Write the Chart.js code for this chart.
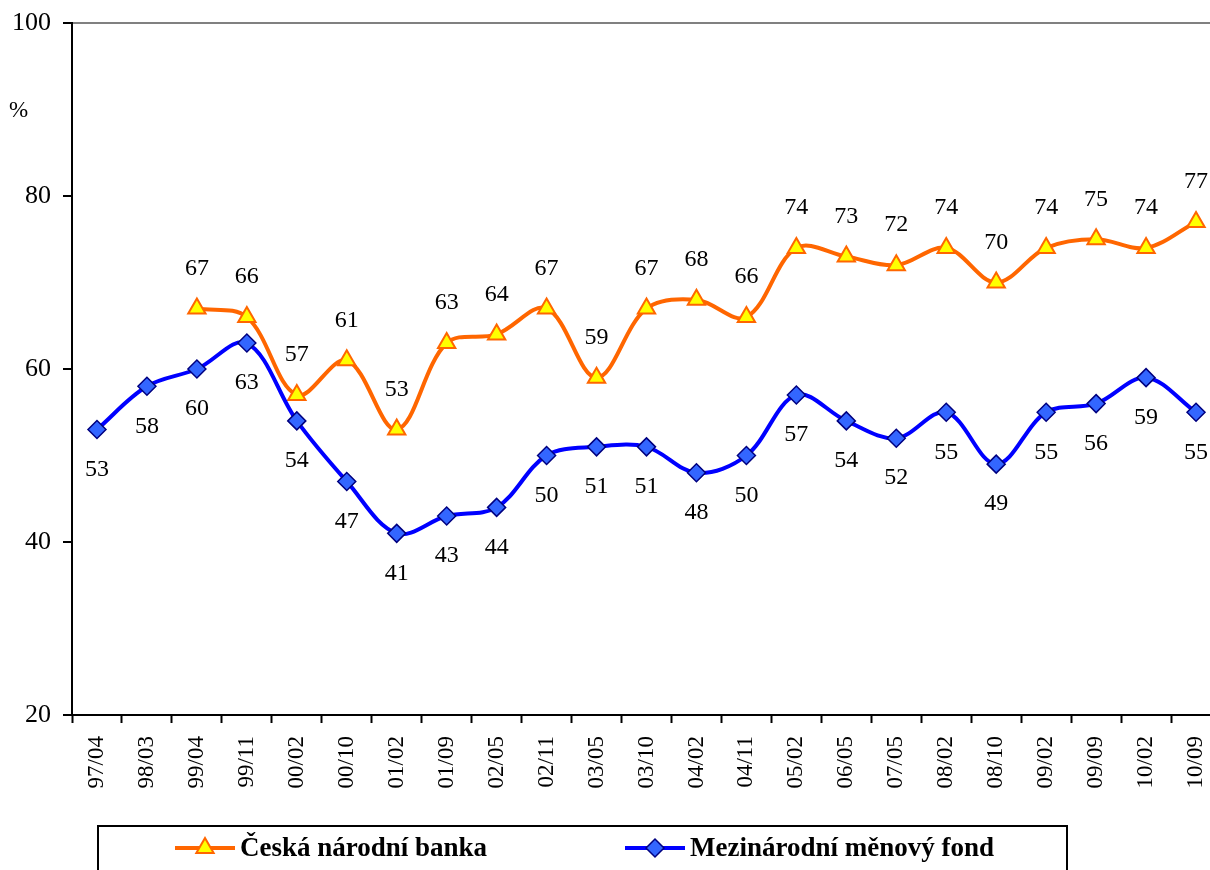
<!DOCTYPE html>
<html>
<head>
<meta charset="utf-8">
<script src="https://cdn.jsdelivr.net/npm/chart.js@4.4.1/dist/chart.umd.min.js"></script>
<style>
  html, body { margin: 0; padding: 0; background: #fff; overflow: hidden; }
  #c { display: block; }
</style>
</head>
<body>
<canvas id="c" width="1233" height="870"></canvas>
<script>
const categories = ['97/04','98/03','99/04','99/11','00/02','00/10','01/02','01/09','02/05','02/11','03/05','03/10','04/02','04/11','05/02','06/05','07/05','08/02','08/10','09/02','09/09','10/02','10/09'];
const cnbValues = [null, null, 67, 66, 57, 61, 53, 63, 64, 67, 59, 67, 68, 66, 74, 73, 72, 74, 70, 74, 75, 74, 77];
const imfValues = [53, 58, 60, 63, 54, 47, 41, 43, 44, 50, 51, 51, 48, 50, 57, 54, 52, 55, 49, 55, 56, 59, 55];
const seriesNames = ['Česká národní banka', 'Mezinárodní měnový fond'];
const yTicks = [20, 40, 60, 80, 100];
const unitLabel = '%';

const SERIF = '"Liberation Serif", "Times New Roman", serif';

const dataLabels = {
  id: 'dataLabels',
  afterDatasetsDraw(chart) {
    const ctx = chart.ctx;
    ctx.save();
    ctx.font = '24px ' + SERIF;
    ctx.fillStyle = '#000';
    ctx.textAlign = 'center';
    ctx.textBaseline = 'middle';
    chart.data.datasets.forEach((ds, di) => {
      const meta = chart.getDatasetMeta(di);
      const dir = ds.labelSide === 'above' ? -1 : 1;
      meta.data.forEach((pt, i) => {
        const v = ds.data[i];
        if (v === null || v === undefined) return;
        ctx.fillText(String(v), pt.x, pt.y + dir * 40);
      });
    });
    ctx.restore();
  }
};

const extras = {
  id: 'extras',
  afterDraw(chart) {
    const ctx = chart.ctx;
    ctx.save();
    ctx.font = '23px ' + SERIF;
    ctx.fillStyle = '#000';
    ctx.textAlign = 'left';
    ctx.textBaseline = 'middle';
    ctx.fillText(unitLabel, 9, 111);
    ctx.strokeStyle = '#000';
    ctx.lineWidth = 2;
    ctx.strokeRect(98, 826, 969, 80);
    const ly = 848;
    const items = [
      { ds: chart.data.datasets[0], x0: 175, tx: 240 },
      { ds: chart.data.datasets[1], x0: 625, tx: 690 }
    ];
    items.forEach(it => {
      const ds = it.ds;
      ctx.strokeStyle = ds.borderColor;
      ctx.lineWidth = ds.borderWidth;
      ctx.beginPath();
      ctx.moveTo(it.x0, ly);
      ctx.lineTo(it.x0 + 60, ly);
      ctx.stroke();
      ctx.fillStyle = ds.pointBackgroundColor;
      ctx.strokeStyle = ds.pointBorderColor;
      ctx.lineWidth = ds.pointBorderWidth;
      Chart.helpers.drawPoint(ctx, {
        pointStyle: ds.pointStyle,
        radius: ds.pointRadius,
        rotation: 0,
        borderWidth: ds.pointBorderWidth
      }, it.x0 + 30, ly);
      ctx.fillStyle = '#000';
      ctx.font = 'bold 27px ' + SERIF;
      ctx.textAlign = 'left';
      ctx.textBaseline = 'middle';
      ctx.fillText(ds.label, it.tx, ly + 1);
    });
    ctx.restore();
  }
};

new Chart(document.getElementById('c'), {
  type: 'line',
  data: {
    labels: categories,
    datasets: [
      {
        label: seriesNames[0],
        data: cnbValues,
        labelSide: 'above',
        borderColor: '#FF6600',
        borderWidth: 4,
        tension: 0.35,
        pointStyle: 'triangle',
        pointRadius: 10,
        pointHoverRadius: 10,
        pointBackgroundColor: '#FFFF00',
        pointBorderColor: '#FF6600',
        pointBorderWidth: 2,
        order: 2
      },
      {
        label: seriesNames[1],
        data: imfValues,
        labelSide: 'below',
        borderColor: '#0000FF',
        borderWidth: 4,
        tension: 0.35,
        pointStyle: 'rectRot',
        pointRadius: 9,
        pointHoverRadius: 9,
        pointBackgroundColor: '#3366FF',
        pointBorderColor: '#000080',
        pointBorderWidth: 1.5,
        order: 1
      }
    ]
  },
  options: {
    responsive: false,
    maintainAspectRatio: false,
    animation: false,
    events: [],
    layout: { padding: { top: 23, left: 0, right: 0, bottom: 75 } },
    plugins: {
      legend: { display: false },
      tooltip: { enabled: false },
      title: { display: false }
    },
    scales: {
      x: {
        type: 'category',
        offset: true,
        grid: {
          offset: true,
          display: true,
          drawOnChartArea: false,
          drawTicks: true,
          tickLength: 8,
          tickWidth: 2,
          tickColor: '#000'
        },
        border: { display: true, color: '#000', width: 2 },
        ticks: {
          autoSkip: false,
          maxRotation: 90,
          minRotation: 90,
          padding: 13,
          color: '#000',
          font: { family: SERIF, size: 23 }
        },
        afterFit(scale) {
          scale.height = 80;
          scale.paddingLeft = 0;
          scale.paddingRight = 0;
        }
      },
      y: {
        min: 20,
        max: 100,
        afterBuildTicks(scale) { scale.ticks = yTicks.map(v => ({ value: v })); },
        grid: {
          display: true,
          drawOnChartArea: true,
          color: c => (c.tick && c.tick.value === 100) ? '#808080' : 'rgba(0,0,0,0)',
          lineWidth: 2,
          tickLength: 9,
          tickWidth: 2,
          tickColor: '#000'
        },
        border: { display: true, color: '#000', width: 2 },
        ticks: {
          padding: 12,
          color: '#000',
          font: { family: SERIF, size: 26 }
        },
        afterFit(scale) {
          scale.width = 72;
          scale.paddingTop = 0;
          scale.paddingBottom = 0;
        }
      }
    }
  },
  plugins: [dataLabels, extras]
});
</script>
</body>
</html>
